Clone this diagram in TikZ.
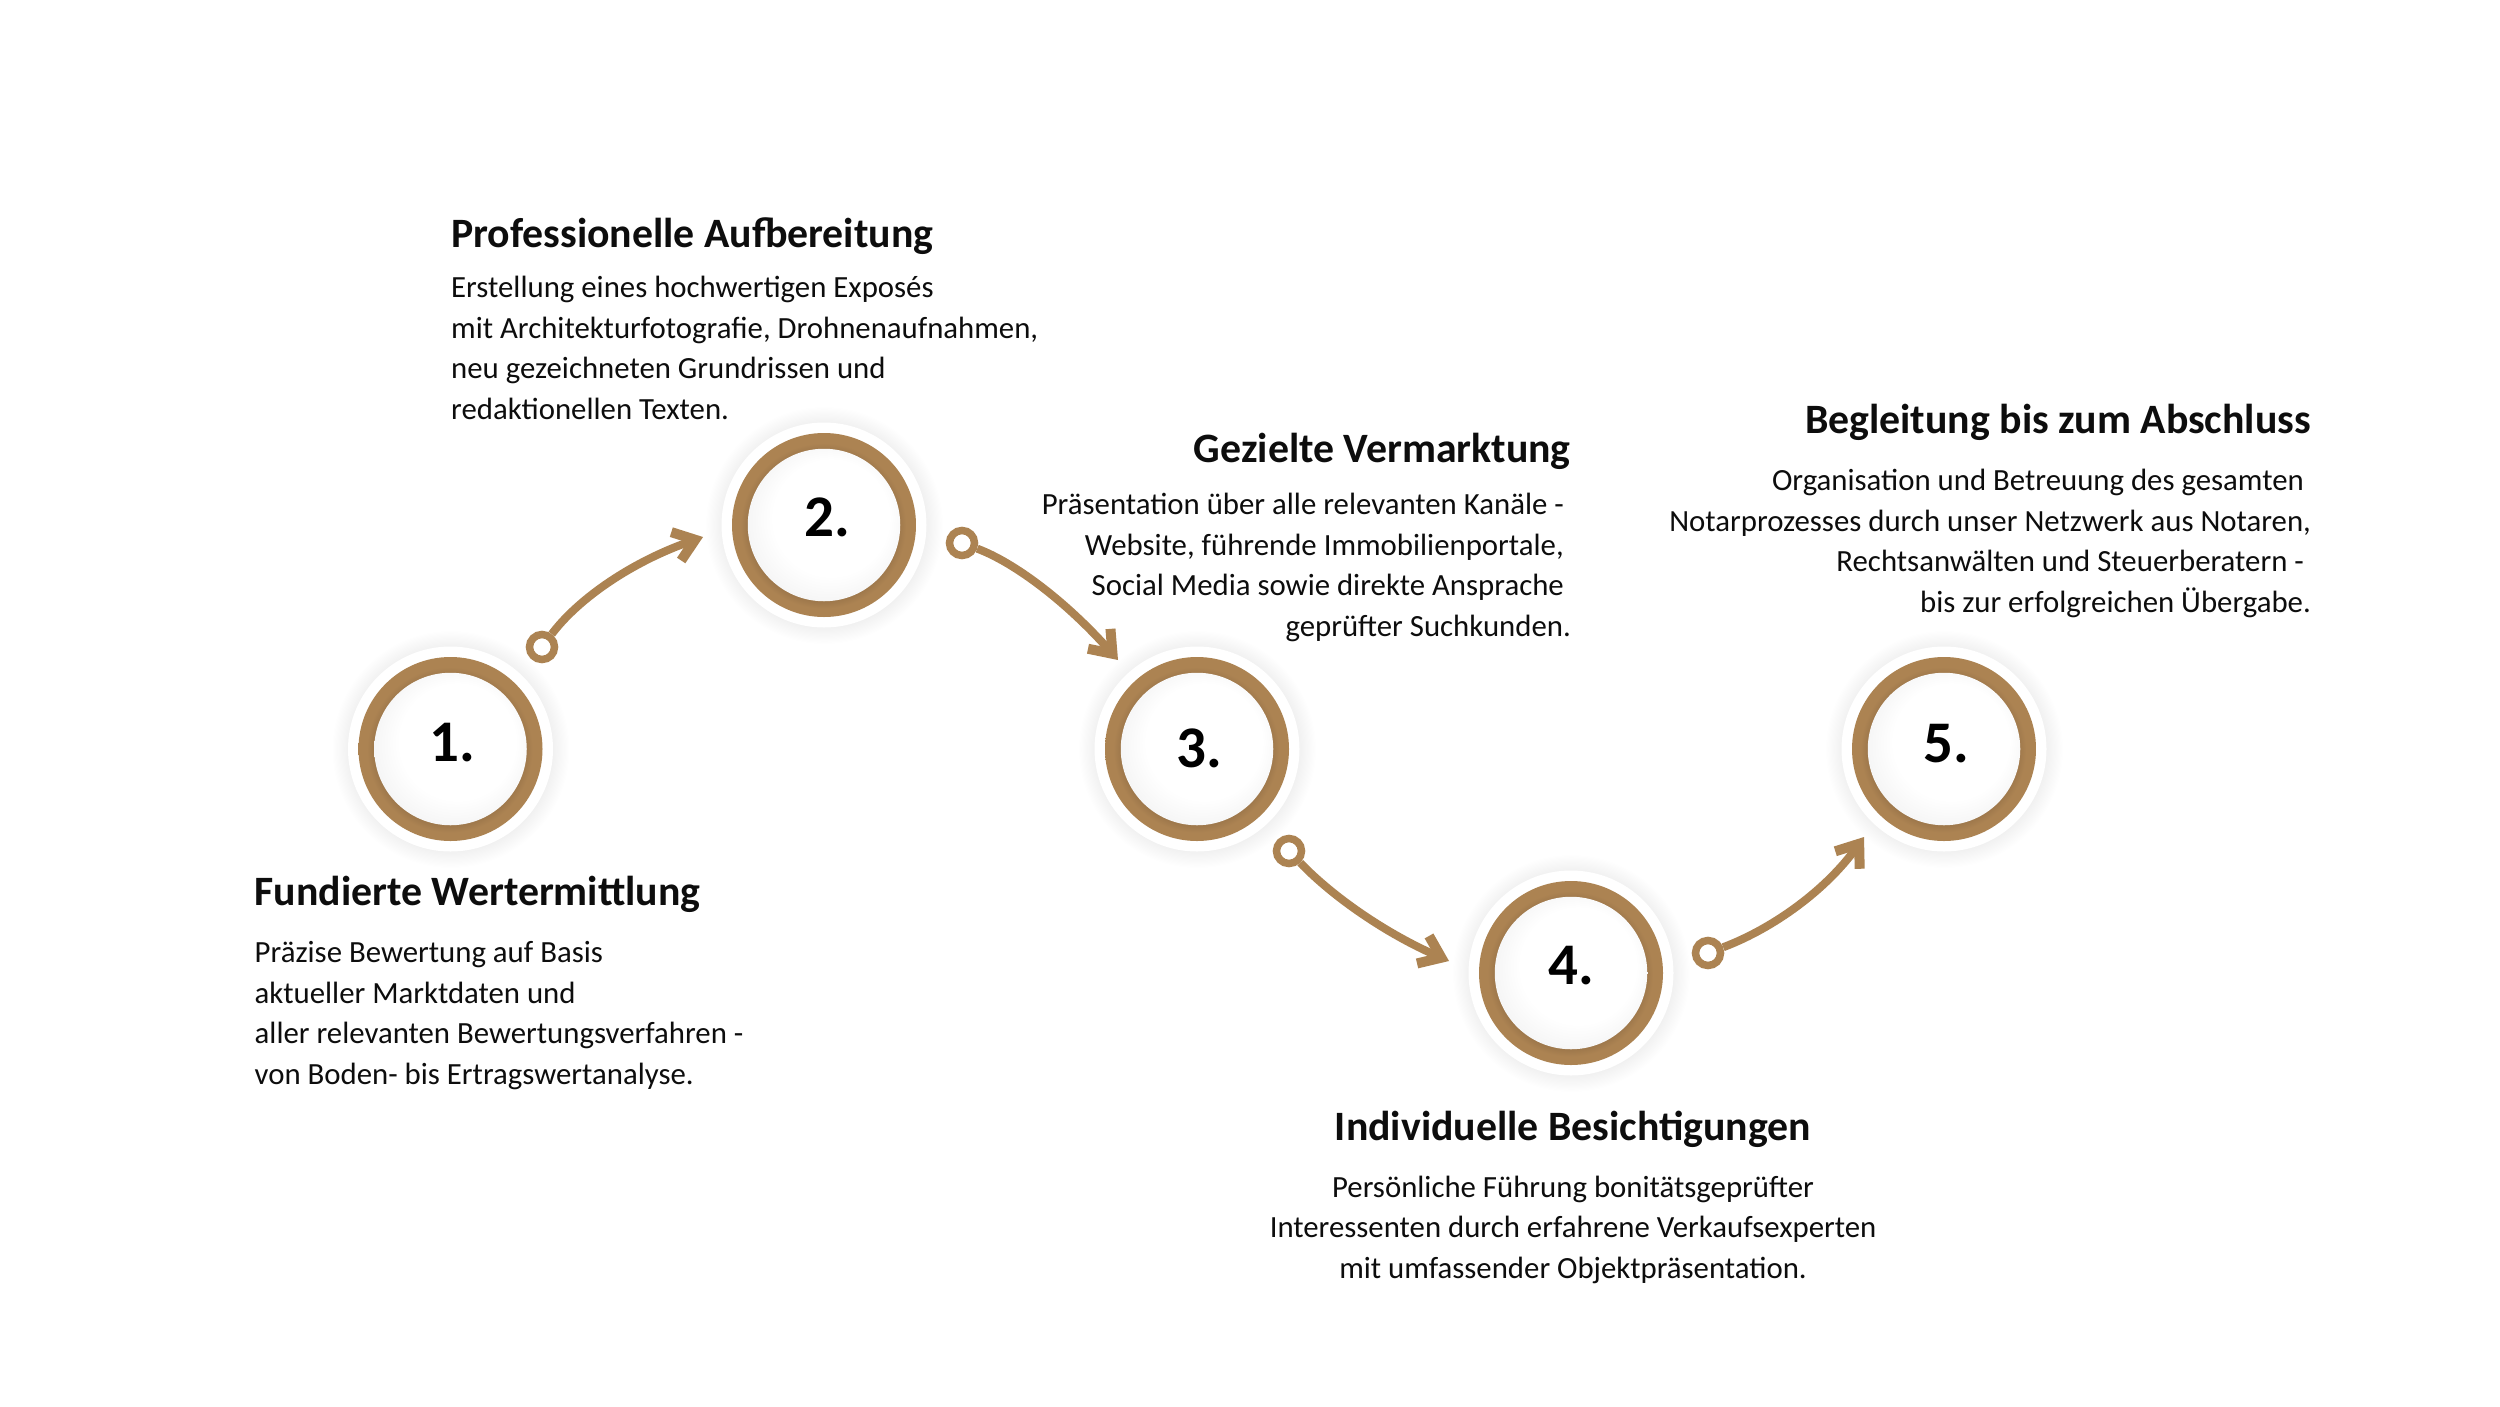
\documentclass[tikz,border=0pt]{standalone}
\usepackage{fontspec}
\setmainfont{Carlito}
\usetikzlibrary{arrows.meta,shadings}
\definecolor{bronze}{HTML}{AC8352}
\pgfdeclareradialshading{discshade}{\pgfpoint{5.5bp}{5.5bp}}{rgb(0bp)=(1,1,1);rgb(19bp)=(1,1,1);rgb(28bp)=(0.955,0.955,0.955);rgb(33bp)=(0.87,0.87,0.87)}
\pgfdeclareradialshading{ringshade}{\pgfpoint{-0.8bp}{-0.8bp}}{rgb(0bp)=(0.62,0.47,0.295);rgb(20.5bp)=(0.62,0.47,0.295);rgb(22.5bp)=(0.675,0.514,0.322);rgb(30bp)=(0.675,0.514,0.322)}
\pgfdeclareradialshading{haloshade}{\pgfpoint{0bp}{0bp}}{rgb(0bp)=(0.945,0.945,0.945);rgb(21.5bp)=(0.945,0.945,0.945);rgb(25bp)=(1,1,1);rgb(30bp)=(1,1,1)}
\newcommand{\trailgap}{\hbox to 7pt{}}
\tikzset{
  x=1pt,y=-1pt,
  halonode/.style={circle,inner sep=0pt,minimum size=238pt,shading=haloshade},
  halotop/.style={circle,inner sep=0pt,minimum size=205pt,fill=white},
  ringnode/.style={circle,inner sep=0pt,minimum size=184pt,shading=ringshade},
  discnode/.style={circle,inner sep=0pt,minimum size=152.5pt,shading=discshade},
  numlabel/.style={inner sep=0pt,anchor=base,font=\fontsize{59}{59}\selectfont\bfseries,text=black},
  headlabel/.style={inner sep=0pt,font=\fontsize{41.8}{44}\selectfont\bfseries,text=black!95},
  bodylabel/.style={inner sep=0pt,font=\fontsize{30.8}{40.4}\selectfont,text=black!95},
  startring/.style={circle,draw=bronze,line width=7.5pt,fill=white,inner sep=0pt,minimum size=25pt},
  curvearrow/.style={draw=bronze,line width=8pt,-{Straight Barb[length=20pt,width=30pt,line width=10pt]}},
}
\newcommand{\stepcircle}[3]{%
  \node[halonode] (h#1) at (#2,#3) {};
  \node[halotop] (w#1) at (#2,#3) {};
  \node[ringnode] (o#1) at (#2,#3) {};
  \node[discnode] (c#1) at (#2,#3) {};
}
\begin{document}
\begin{tikzpicture}
\useasboundingbox (0,0) rectangle (2500,1406);
\fill[white] (0,0) rectangle (2500,1406);

\stepcircle{1}{450.5}{749}
\stepcircle{2}{824}{525}
\stepcircle{3}{1197}{749}
\stepcircle{4}{1571}{973}
\stepcircle{5}{1944}{749}

\node[numlabel] (n1) at (452,761.5) {1.};
\node[numlabel] (n2) at (827.5,536.5) {2.};
\node[numlabel] (n3) at (1199,767.5) {3.};
\node[numlabel] (n4) at (1571.5,984.5) {4.};
\node[numlabel] (n5) at (1946,762.5) {5.};

\node[startring] (s1) at (542,647) {};
\node[startring] (s2) at (962,543) {};
\node[startring] (s3) at (1289,851) {};
\node[startring] (s4) at (1708,953) {};
\coordinate (t1) at (703,537);
\coordinate (t2) at (1118,660);
\coordinate (t3) at (1449,961);
\coordinate (t4) at (1864,837);
\path[curvearrow] (s1) .. controls (578.7,598.3) and (632,561.7) .. (t1);
\path[curvearrow] (s2) .. controls (1014,562.3) and (1066,601.3) .. (t2);
\path[curvearrow] (s3) .. controls (1333,897) and (1386.3,933.7) .. (t3);
\path[curvearrow] (s4) .. controls (1774.7,927.7) and (1826.7,889) .. (t4);

\node[headlabel,anchor=base west] (h1t) at (254.5,905.5) {Fundierte Wertermittlung};
\node[bodylabel,anchor=base west,align=left] (b1t) at (254.5,1084) {Präzise Bewertung auf Basis\\aktueller Marktdaten und\\aller relevanten Bewertungsverfahren -\\von Boden- bis Ertragswertanalyse.};

\node[headlabel,anchor=base west] (h2t) at (451,247) {Professionelle Aufbereitung};
\node[bodylabel,anchor=base west,align=left] (b2t) at (451,419) {Erstellung eines hochwertigen Exposés\\mit Architekturfotografie, Drohnenaufnahmen,\\neu gezeichneten Grundrissen und\\redaktionellen Texten.};

\node[headlabel,anchor=base east] (h3t) at (1571,462.5) {Gezielte Vermarktung};
\node[bodylabel,anchor=base east,align=right] (b3t) at (1571,636) {Präsentation über alle relevanten Kanäle -\trailgap\\Website, führende Immobilienportale,\trailgap\\Social Media sowie direkte Ansprache\trailgap\\geprüfter Suchkunden.};

\node[headlabel,anchor=base] (h4t) at (1573,1140.5) {Individuelle Besichtigungen};
\node[bodylabel,anchor=base,align=center] (b4t) at (1573,1278) {Persönliche Führung bonitätsgeprüfter\\Interessenten durch erfahrene Verkaufsexperten\\mit umfassender Objektpräsentation.};

\node[headlabel,anchor=base east] (h5t) at (2311,433.5) {Begleitung bis zum Abschluss};
\node[bodylabel,anchor=base east,align=right] (b5t) at (2311,612) {Organisation und Betreuung des gesamten\trailgap\\Notarprozesses durch unser Netzwerk aus Notaren,\\Rechtsanwälten und Steuerberatern -\trailgap\\bis zur erfolgreichen Übergabe.};
\end{tikzpicture}
\end{document}
